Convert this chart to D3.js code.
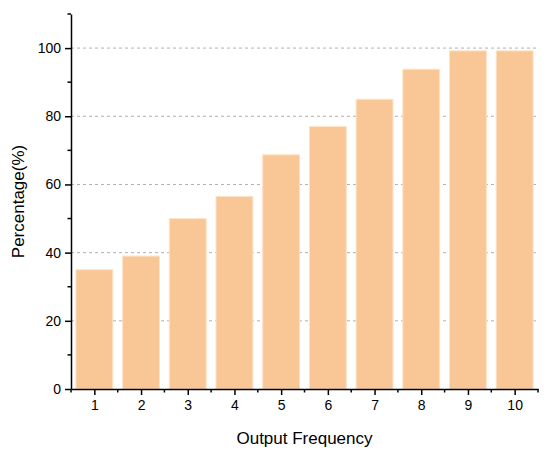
<!DOCTYPE html>
<html><head><meta charset="utf-8">
<script src="https://cdn.jsdelivr.net/npm/d3@7"></script>
<style>body{margin:0;background:#fff}text{font-family:Arial,"Liberation Sans",sans-serif}</style>
</head><body><svg id="c" width="550" height="458"></svg>
<script>
const categories = [1, 2, 3, 4, 5, 6, 7, 8, 9, 10];
const percentages = [35, 39, 50, 56.5, 68.7, 77, 85, 93.8, 99.2, 99.2];
const yTicks = [0, 20, 40, 60, 80, 100];

const svg = d3.select('#c');
const mLeft = 71, mRight = 538, mTop = 14, mBottom = 389;

const x = d3.scaleLinear().domain([0.5, 10.5]).range([mLeft, mRight]);
const y = d3.scaleLinear().domain([0, 110]).range([mBottom, mTop]);
const step = x(2) - x(1), bw = step * 0.79;

// grid
svg.append('g').selectAll('line').data(yTicks.slice(1)).join('line')
    .attr('x1', mLeft).attr('x2', mRight)
    .attr('y1', d => y(d)).attr('y2', d => y(d))
    .attr('stroke', '#b0b0b0').attr('stroke-width', 1).attr('stroke-dasharray', '3,3');

svg.append('g').selectAll('rect').data(categories).join('rect')
    .attr('x', (d) => x(d) - bw / 2)
    .attr('width', bw)
    .attr('y', (d, i) => y(percentages[i]))
    .attr('height', (d, i) => mBottom - y(percentages[i]))
    .attr('fill', '#f9c796').attr('stroke', '#fde3c8').attr('stroke-width', 1);

const yAxis = svg.append('g').attr('transform', `translate(${mLeft},0)`)
    .call(d3.axisLeft(y).tickValues(yTicks).tickSize(6).tickPadding(4).tickSizeOuter(0));
yAxis.append('g').selectAll('line').data([10, 30, 50, 70, 90, 110]).join('line')
    .attr('x1', 0).attr('x2', -3.5).attr('y1', d => y(d)).attr('y2', d => y(d)).attr('stroke', '#000').attr('stroke-width', 1.5);

const xAxis = svg.append('g').attr('transform', `translate(0,${mBottom})`)
    .call(d3.axisBottom(x).tickValues(categories).tickFormat(d3.format('d')).tickSize(6).tickPadding(5).tickSizeOuter(0));
xAxis.append('g').selectAll('line').data(d3.range(0.5, 11, 1)).join('line')
    .attr('x1', d => x(d)).attr('x2', d => x(d)).attr('y1', 0).attr('y2', 3.5).attr('stroke', '#000').attr('stroke-width', 1.5);

svg.selectAll('.domain, .tick line').attr('stroke', '#000').attr('stroke-width', 1.5);
svg.selectAll('.tick text').attr('font-size', 14).attr('fill', '#000');

svg.append('text').attr('x', (mLeft + mRight) / 2).attr('y', 444).attr('text-anchor', 'middle')
    .attr('font-size', 17).text('Output Frequency');
svg.append('text').attr('transform', `translate(24,${(mTop + mBottom) / 2}) rotate(-90)`)
    .attr('text-anchor', 'middle').attr('font-size', 17).text('Percentage(%)');
</script></body></html>
